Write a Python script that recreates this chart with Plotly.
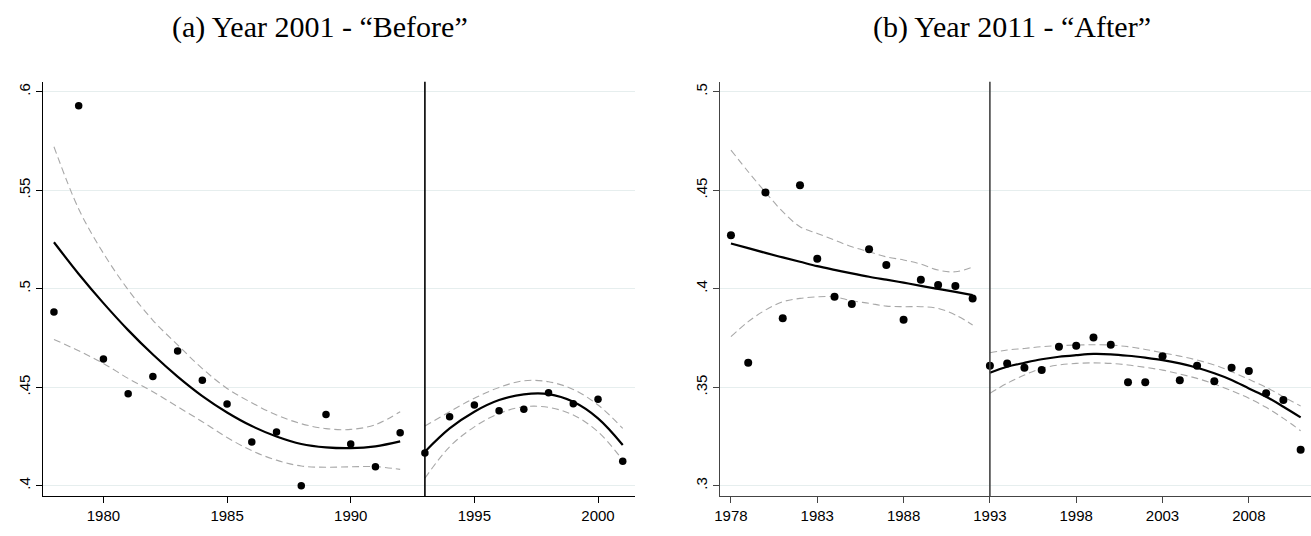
import plotly.graph_objects as go

# ---------------- Panel (a): Year 2001 - "Before" ----------------
years_a = list(range(1978, 2002))
share_a = [0.4882, 0.5929, 0.4643, 0.4467, 0.4555, 0.4684, 0.4535, 0.4415,
           0.4222, 0.4273, 0.4000, 0.4362, 0.4212, 0.4097, 0.4269, 0.4166,
           0.4350, 0.4410, 0.4381, 0.4388, 0.4472, 0.4416, 0.4439, 0.4124]

fit_years_a_pre = list(range(1978, 1993))
fit_a_pre = [0.5236, 0.5075, 0.4927, 0.4790, 0.4666, 0.4554, 0.4455, 0.4372,
             0.4303, 0.4250, 0.4212, 0.4195, 0.4191, 0.4200, 0.4225]
hi_a_pre = [0.5721, 0.5405, 0.5180, 0.4995, 0.4840, 0.4715, 0.4595, 0.4494,
            0.4421, 0.4359, 0.4315, 0.4290, 0.4286, 0.4310, 0.4376]
lo_a_pre = [0.4743, 0.4685, 0.4621, 0.4545, 0.4477, 0.4401, 0.4325, 0.4245,
            0.4178, 0.4130, 0.4100, 0.4094, 0.4096, 0.4097, 0.4083]

fit_years_a_post = list(range(1993, 2002))
fit_a_post = [0.4173, 0.4291, 0.4376, 0.4435, 0.4464, 0.4465, 0.4426, 0.4342, 0.4207]
hi_a_post = [0.4303, 0.4376, 0.4444, 0.4499, 0.4533, 0.4528, 0.4489, 0.4410, 0.4291]
lo_a_post = [0.4038, 0.4198, 0.4299, 0.4367, 0.4401, 0.4398, 0.4359, 0.4274, 0.4130]

xticks_a = [1980, 1985, 1990, 1995, 2000]
yticks_a = [0.4, 0.45, 0.5, 0.55, 0.6]
ytext_a = [".4", ".45", ".5", ".55", ".6"]

# ---------------- Panel (b): Year 2011 - "After" ----------------
years_b = list(range(1978, 2012))
share_b = [0.4271, 0.3624, 0.4489, 0.3850, 0.4525, 0.4152, 0.3959, 0.3922,
           0.4200, 0.4120, 0.3843, 0.4046, 0.4019, 0.4014, 0.3951, 0.3609,
           0.3621, 0.3599, 0.3587, 0.3706, 0.3711, 0.3753, 0.3716, 0.3525,
           0.3525, 0.3657, 0.3535, 0.3609, 0.3531, 0.3599, 0.3582, 0.3469,
           0.3435, 0.3183]

fit_years_b_pre = list(range(1978, 1993))
fit_b_pre = [0.4230, 0.4206, 0.4182, 0.4159, 0.4137, 0.4115, 0.4096, 0.4078,
             0.4061, 0.4046, 0.4031, 0.4015, 0.3999, 0.3984, 0.3968]
hi_b_pre = [0.4704, 0.4594, 0.4490, 0.4391, 0.4315, 0.4281, 0.4247, 0.4213,
            0.4188, 0.4162, 0.4146, 0.4125, 0.4095, 0.4086, 0.4111]
lo_b_pre = [0.3757, 0.3833, 0.3892, 0.3934, 0.3951, 0.3959, 0.3959, 0.3939,
            0.3926, 0.3912, 0.3909, 0.3909, 0.3900, 0.3867, 0.3816]

fit_years_b_post = list(range(1993, 2012))
fit_b_post = [0.3574, 0.3604, 0.3624, 0.3642, 0.3655, 0.3663, 0.3669, 0.3667,
              0.3660, 0.3650, 0.3638, 0.3621, 0.3599, 0.3571, 0.3537, 0.3494,
              0.3452, 0.3401, 0.3347]
hi_b_post = [0.3675, 0.3689, 0.3697, 0.3706, 0.3711, 0.3714, 0.3716, 0.3714,
             0.3706, 0.3692, 0.3675, 0.3658, 0.3638, 0.3613, 0.3579, 0.3540,
             0.3500, 0.3452, 0.3405]
lo_b_post = [0.3469, 0.3520, 0.3562, 0.3596, 0.3613, 0.3621, 0.3624, 0.3621,
             0.3613, 0.3601, 0.3587, 0.3567, 0.3545, 0.3516, 0.3482, 0.3444,
             0.3398, 0.3342, 0.3279]

xticks_b = [1978, 1983, 1988, 1993, 1998, 2003, 2008]
yticks_b = [0.3, 0.35, 0.4, 0.45, 0.5]
ytext_b = [".3", ".35", ".4", ".45", ".5"]

cutoff_year = 1993
titles = ["(a) Year 2001 - \u201cBefore\u201d", "(b) Year 2011 - \u201cAfter\u201d"]

# ---------------- Figure ----------------
W, H = 1311, 536
fig = go.Figure()

DASH = "7px,4px"
CI_COLOR = "#a8a8a8"


def add_panel(xa, ya, years, share, segs, msize):
    for fy, f, hi, lo in segs:
        fig.add_trace(go.Scatter(x=fy, y=hi, mode="lines", xaxis=xa, yaxis=ya,
                                 line=dict(color=CI_COLOR, width=1.1, dash=DASH, shape="spline"),
                                 showlegend=False, hoverinfo="skip"))
        fig.add_trace(go.Scatter(x=fy, y=lo, mode="lines", xaxis=xa, yaxis=ya,
                                 line=dict(color=CI_COLOR, width=1.1, dash=DASH, shape="spline"),
                                 showlegend=False, hoverinfo="skip"))
        fig.add_trace(go.Scatter(x=fy, y=f, mode="lines", xaxis=xa, yaxis=ya,
                                 line=dict(color="black", width=2.2, shape="spline"),
                                 showlegend=False, hoverinfo="skip"))
    fig.add_trace(go.Scatter(x=years, y=share, mode="markers", xaxis=xa, yaxis=ya,
                             marker=dict(color="black", size=msize, line=dict(width=0)),
                             showlegend=False))


add_panel("x", "y", years_a, share_a,
          [(fit_years_a_pre, fit_a_pre, hi_a_pre, lo_a_pre),
           (fit_years_a_post, fit_a_post, hi_a_post, lo_a_post)], 7.5)
add_panel("x2", "y2", years_b, share_b,
          [(fit_years_b_pre, fit_b_pre, hi_b_pre, lo_b_pre),
           (fit_years_b_post, fit_b_post, hi_b_post, lo_b_post)], 8)

ydom = [(H - 496) / H, (H - 81.7) / H]
tickfont = dict(family="Liberation Sans, Arial, sans-serif", size=15, color="black")
grid = "#e6eeee"
title_font = dict(family="Liberation Serif, Times New Roman, serif", size=30, color="black")

common_x = dict(showgrid=False, zeroline=False, showline=True, ticks="outside",
                ticklen=6, tickwidth=1, tickfont=tickfont, mirror=False)
common_y = dict(showgrid=True, gridcolor=grid, gridwidth=1, zeroline=False,
                showline=True, ticks="outside", ticklen=6, tickwidth=1,
                tickfont=tickfont, tickangle=-90, mirror=False)

fig.update_layout(
    width=W, height=H,
    margin=dict(l=0, r=0, t=0, b=0),
    paper_bgcolor="white", plot_bgcolor="white",
    xaxis=dict(domain=[37 / W, 632 / W], range=[1977.55, 2001.5],
               tickvals=xticks_a, linecolor="black", tickcolor="black",
               anchor="y", **common_x),
    yaxis=dict(domain=ydom, range=[0.3948, 0.6051], tickvals=yticks_a,
               ticktext=ytext_a, linecolor="black", tickcolor="black",
               anchor="x", **common_y),
    xaxis2=dict(domain=[717.7 / W, 1.0], range=[1977.39, 2011.6],
                tickvals=xticks_b, linecolor="#444444", tickcolor="#444444",
                anchor="y2", **common_x),
    yaxis2=dict(domain=ydom, range=[0.2948, 0.5051], tickvals=yticks_b,
                ticktext=ytext_b, linecolor="#444444", tickcolor="#444444",
                anchor="x2", **common_y),
    shapes=[
        dict(type="line", xref="x", yref="y domain", x0=cutoff_year, x1=cutoff_year,
             y0=0, y1=1, line=dict(color="black", width=1.6)),
        dict(type="line", xref="x2", yref="y2 domain", x0=cutoff_year, x1=cutoff_year,
             y0=0, y1=1, line=dict(color="#444444", width=1.6)),
    ],
    annotations=[
        dict(text=titles[0], x=315 / W, y=1 - 27 / H, xref="paper", yref="paper",
             xanchor="center", yanchor="middle", showarrow=False, font=title_font),
        dict(text=titles[1], x=1011 / W, y=1 - 27 / H, xref="paper", yref="paper",
             xanchor="center", yanchor="middle", showarrow=False, font=title_font),
    ],
)

fig.write_html(
    "out.html",
    config={"displayModeBar": False},
    post_script="document.body.style.margin='0px';document.body.style.padding='0px';"
                "document.body.style.overflow='hidden';",
)
